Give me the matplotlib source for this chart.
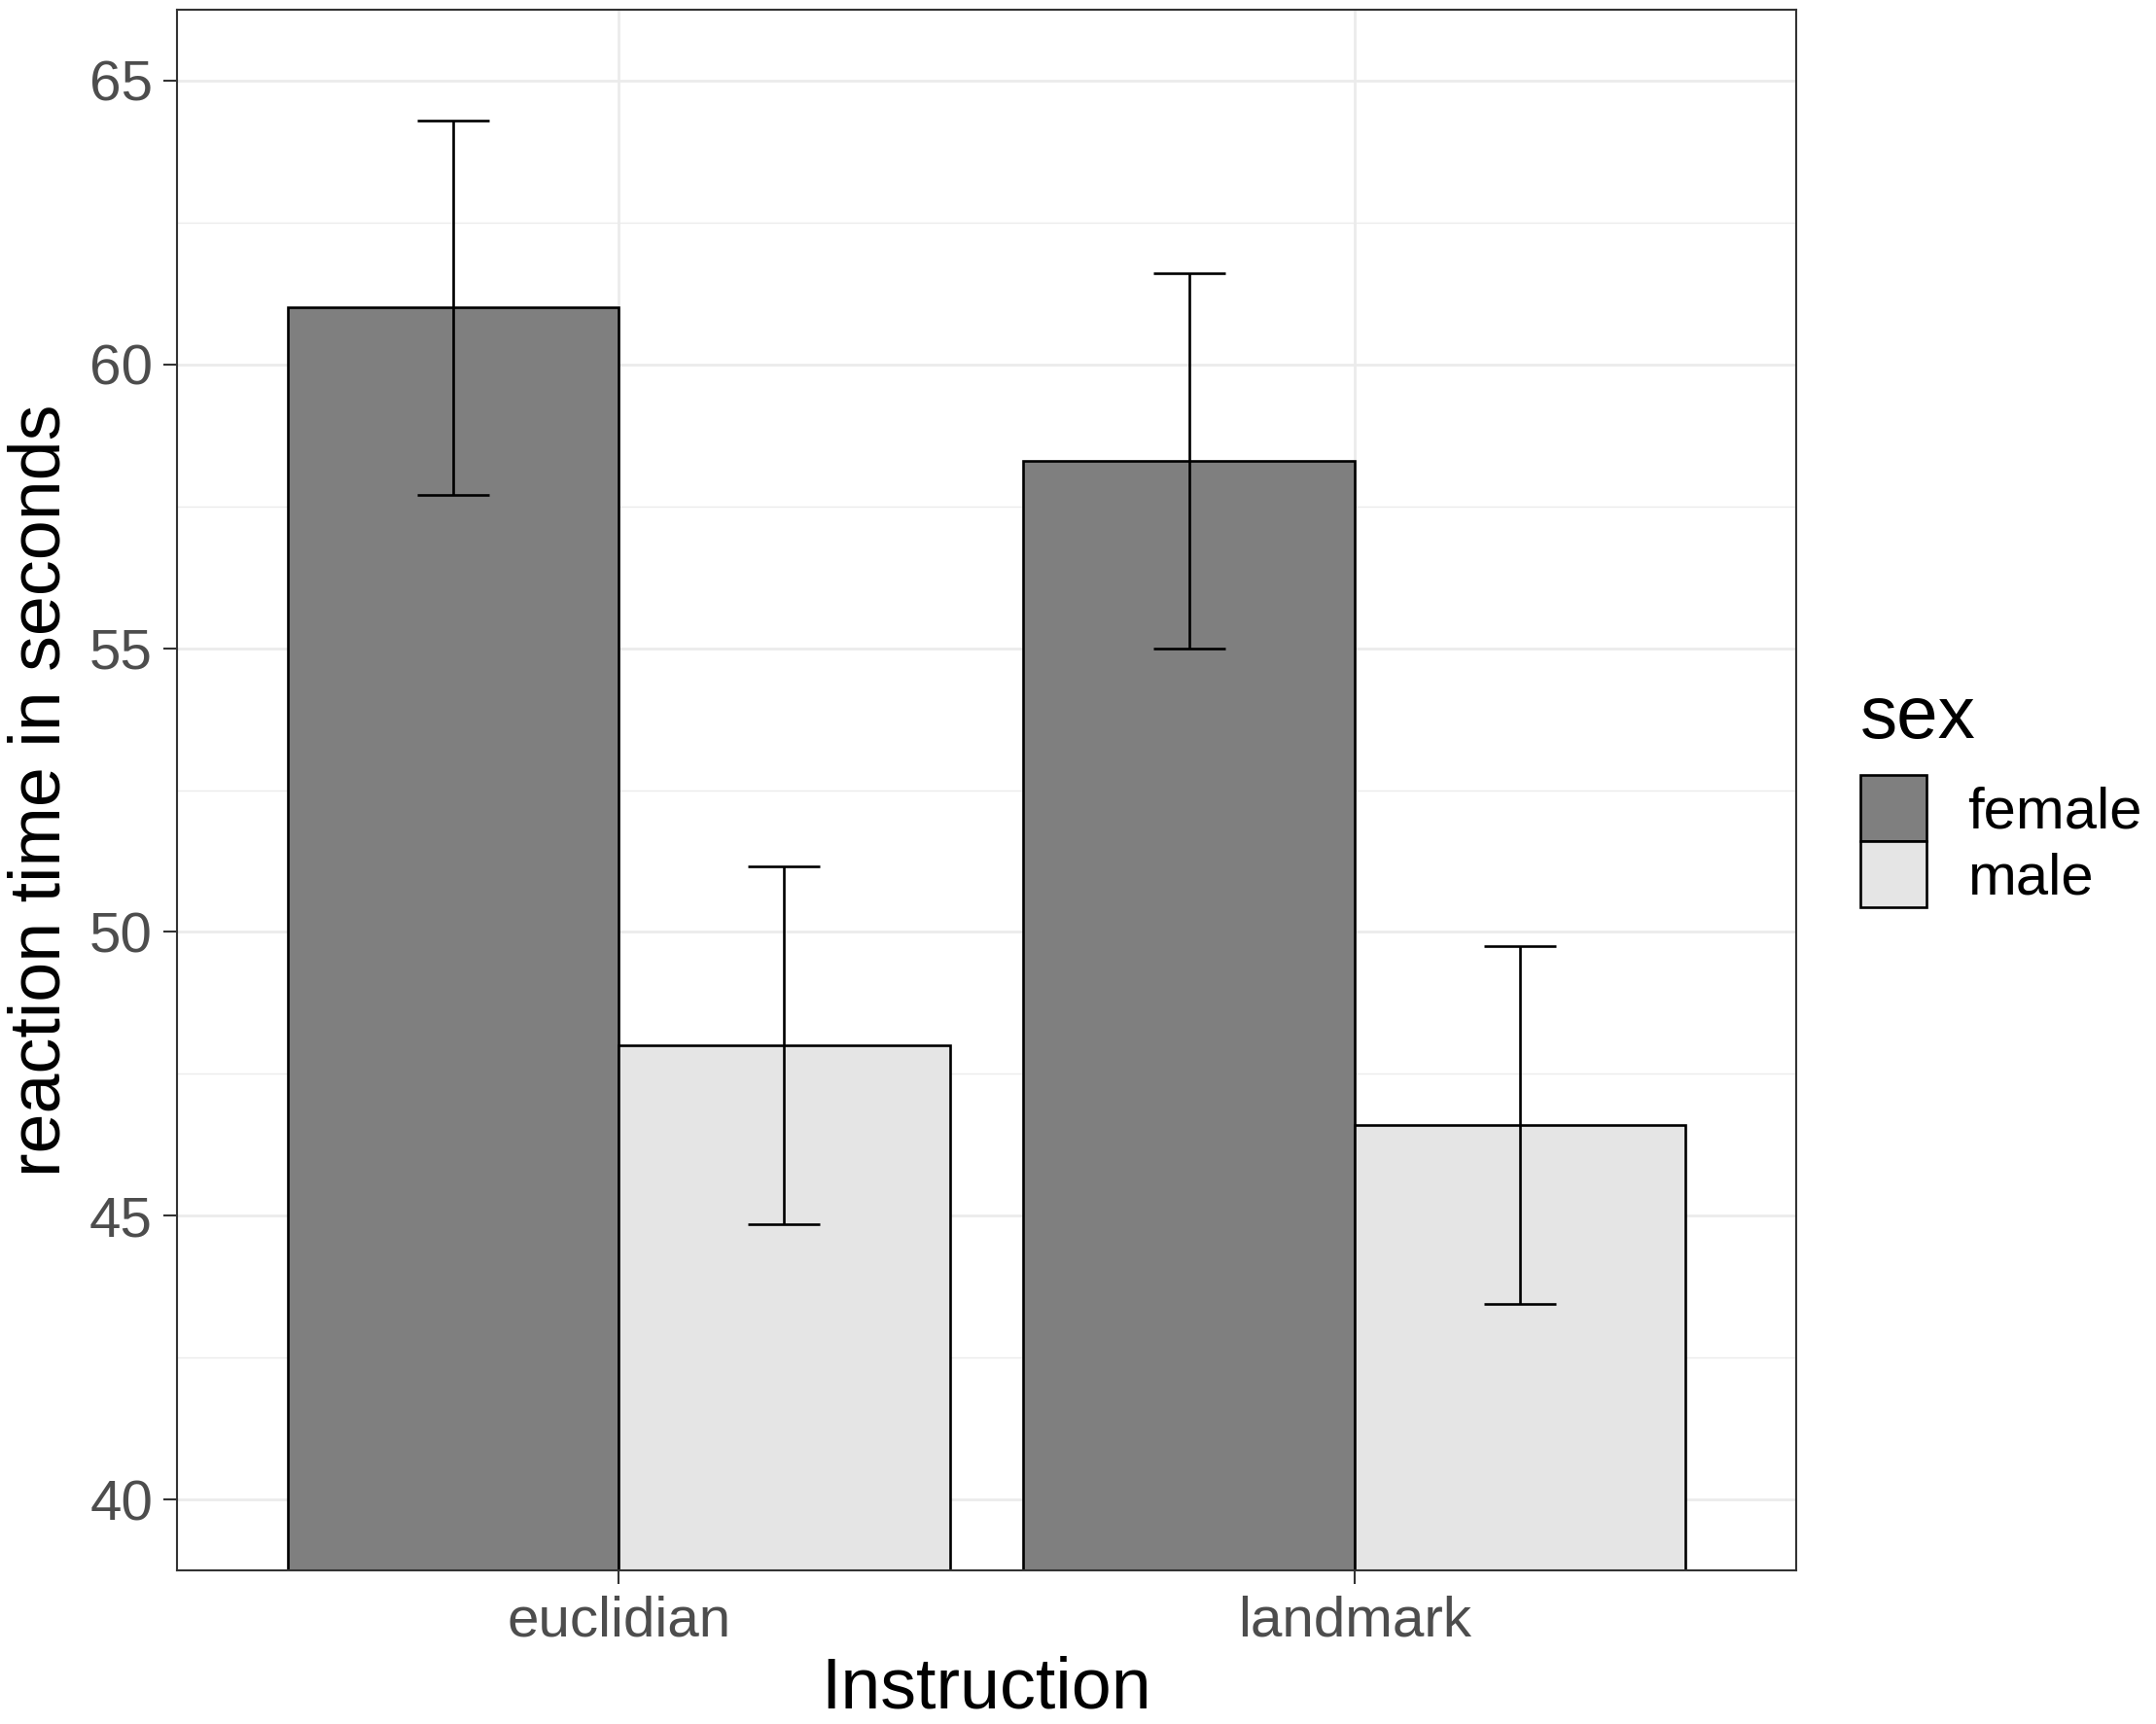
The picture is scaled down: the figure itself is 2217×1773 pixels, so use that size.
import matplotlib
matplotlib.use("Agg")
import matplotlib.pyplot as plt
import numpy as np

# ---- data ----
instructions = ["euclidian", "landmark"]
sexes = ["female", "male"]
female_mean = [61.0, 58.3]
female_err = [3.3, 3.3]
male_mean = [48.0, 46.6]
male_err = [3.15, 3.15]
yticks = [40, 45, 50, 55, 60, 65]

colors = {"female": "#7F7F7F", "male": "#E5E5E5"}

plt.rcParams['font.family'] = ['Liberation Sans', 'DejaVu Sans']

fig = plt.figure(figsize=(22.17, 17.73), dpi=100)
ax = fig.add_axes([0.0821, 0.0891, 0.8331 - 0.0821, 0.99436 - 0.0891])

x = np.arange(len(instructions))
w = 0.45
bars = []
for i, (sex, means, errs) in enumerate([("female", female_mean, female_err),
                                        ("male", male_mean, male_err)]):
    xpos = x + (i - 0.5) * w
    b = ax.bar(xpos, means, width=w, color=colors[sex], edgecolor="black",
               linewidth=1.9, label=sex, zorder=2)
    bars.append(b)
    ax.errorbar(xpos, means, yerr=errs, fmt="none", ecolor="black",
                elinewidth=1.9, capsize=26.6, capthick=1.9, zorder=3)

ax.set_xlim(-0.6, 1.6)
ax.set_ylim(38.75, 66.25)
ax.set_xticks(x)
ax.set_xticklabels(instructions)
ax.set_yticks(yticks)
ax.set_yticks([42.5, 47.5, 52.5, 57.5, 62.5], minor=True)

ax.set_axisbelow(True)
ax.grid(which="major", color="#EBEBEB", linewidth=2.0)
ax.grid(which="minor", axis="y", color="#EBEBEB", linewidth=1.0)
ax.tick_params(which="minor", length=0)
ax.tick_params(which="major", length=10, width=1.5, color="#333333",
               labelsize=42, labelcolor="#4D4D4D", pad=8)

for s in ax.spines.values():
    s.set_color("#333333")
    s.set_linewidth(1.5)

ax.set_xlabel("Instruction", fontsize=53, labelpad=6)
ax.set_ylabel("reaction time in seconds", fontsize=53, labelpad=11)

leg = ax.legend(handles=[bars[0], bars[1]], labels=sexes, title="sex",
                loc="upper left", bbox_to_anchor=(0.863, 0.603),
                bbox_transform=fig.transFigure, frameon=False,
                fontsize=43, title_fontsize=55, alignment="left",
                handlelength=1.14, handleheight=1.376, labelspacing=0.0,
                handletextpad=0.7, borderpad=0, borderaxespad=0)
leg._legend_box.sep = 16

fig.savefig("out.png", dpi=100, facecolor="white")
